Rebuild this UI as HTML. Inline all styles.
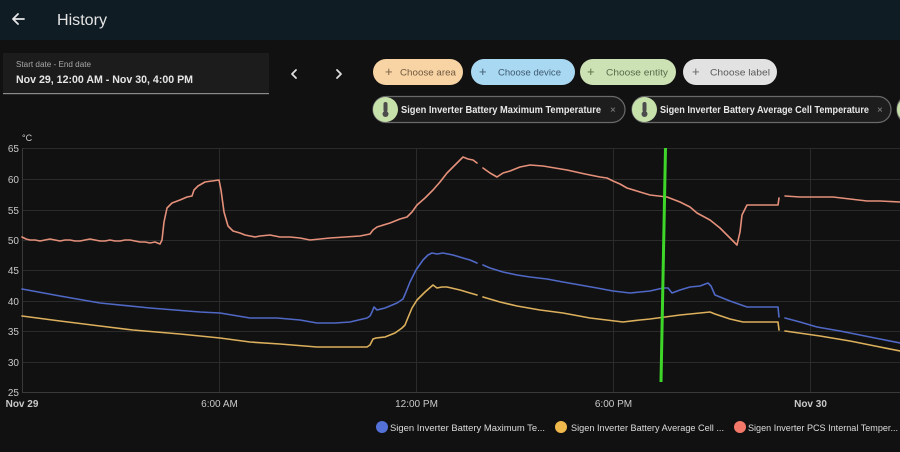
<!DOCTYPE html>
<html><head><meta charset="utf-8"><style>
html,body{margin:0;padding:0;background:#111111;width:900px;height:452px;overflow:hidden}
svg{display:block}
text{font-family:"Liberation Sans",Arial,sans-serif}
</style></head><body>
<svg width="900" height="452" viewBox="0 0 900 452" xmlns="http://www.w3.org/2000/svg">
<rect width="900" height="452" fill="#111111"/>
<!-- header -->
<rect x="0" y="0" width="900" height="40" fill="#101c24"/>
<g stroke="#e6e6e6" stroke-width="1.8" fill="none" stroke-linecap="round" stroke-linejoin="round">
<path d="M24 19 H13 M18 14 L13 19 L18 24"/>
</g>
<text x="57" y="25" font-size="16" fill="#e4e4e4" textLength="50" lengthAdjust="spacingAndGlyphs">History</text>
<!-- date box -->
<rect x="3" y="53" width="266" height="41" fill="#1c1c1c"/>
<rect x="3" y="93" width="266" height="1.2" fill="#8a8a8a"/>
<text x="16" y="67" font-size="8" fill="#a8a8a8" textLength="75" lengthAdjust="spacingAndGlyphs">Start date - End date</text>
<text x="16" y="83" font-size="11" fill="#e6e6e6" font-weight="bold" textLength="177" lengthAdjust="spacingAndGlyphs">Nov 29, 12:00 AM - Nov 30, 4:00 PM</text>
<g stroke="#e0e0e0" stroke-width="1.8" fill="none" stroke-linecap="round" stroke-linejoin="round">
<path d="M296 70 L292 74 L296 78"/>
<path d="M337 70 L341 74 L337 78"/>
</g>
<!-- chips row 1 -->
<rect x="373" y="59" width="90" height="26" rx="13" fill="#f8d3a3"/>
<text x="385" y="76" font-size="13" fill="#7a6248">+</text>
<text x="400" y="75.5" font-size="9.5" fill="#6f5a40" textLength="56" lengthAdjust="spacingAndGlyphs">Choose area</text>
<rect x="471" y="59" width="104" height="26" rx="13" fill="#a9d8f3"/>
<text x="479" y="76" font-size="13" fill="#3f5d72">+</text>
<text x="498" y="75.5" font-size="9.5" fill="#3e5a6e" textLength="63" lengthAdjust="spacingAndGlyphs">Choose device</text>
<rect x="580" y="59" width="96" height="26" rx="13" fill="#cde2b4"/>
<text x="587" y="76" font-size="13" fill="#5a6e48">+</text>
<text x="606" y="75.5" font-size="9.5" fill="#58694a" textLength="62" lengthAdjust="spacingAndGlyphs">Choose entity</text>
<rect x="683" y="59" width="94" height="26" rx="13" fill="#e2e2e2"/>
<text x="692" y="76" font-size="13" fill="#666">+</text>
<text x="710" y="75.5" font-size="9.5" fill="#5a5a5a" textLength="60" lengthAdjust="spacingAndGlyphs">Choose label</text>
<!-- chips row 2 -->
<rect x="373" y="96.5" width="252" height="26" rx="13" fill="#1d1d1d" stroke="#6a6a6a" stroke-width="1.2"/>
<circle cx="385.5" cy="109.5" r="12.5" fill="#c7e1ab"/>
<rect x="383.5" y="102" width="4" height="10" rx="2" fill="#4c4c4c"/>
<circle cx="385.5" cy="114" r="3" fill="#4c4c4c"/>
<text x="401" y="113" font-size="10" font-weight="bold" fill="#e8e8e8" textLength="200" lengthAdjust="spacingAndGlyphs">Sigen Inverter Battery Maximum Temperature</text>
<text x="610" y="113" font-size="10" fill="#8a8a8a">×</text>
<rect x="632" y="96.5" width="259" height="26" rx="13" fill="#1d1d1d" stroke="#6a6a6a" stroke-width="1.2"/>
<circle cx="644.5" cy="109.5" r="12.5" fill="#c7e1ab"/>
<rect x="642.5" y="102" width="4" height="10" rx="2" fill="#4c4c4c"/>
<circle cx="644.5" cy="114" r="3" fill="#4c4c4c"/>
<text x="660" y="113" font-size="10" font-weight="bold" fill="#e8e8e8" textLength="209" lengthAdjust="spacingAndGlyphs">Sigen Inverter Battery Average Cell Temperature</text>
<text x="877" y="113" font-size="10" fill="#8a8a8a">×</text>
<rect x="897" y="96.5" width="20" height="26" rx="13" fill="#1d1d1d" stroke="#6a6a6a" stroke-width="1.2"/>
<circle cx="909.5" cy="109.5" r="12.5" fill="#c7e1ab"/>
<!-- grid -->
<g stroke="#2b2b2b" stroke-width="1">
<line x1="22" y1="148.5" x2="900" y2="148.5"/>
<line x1="22" y1="179.5" x2="900" y2="179.5"/>
<line x1="22" y1="210.5" x2="900" y2="210.5"/>
<line x1="22" y1="240.5" x2="900" y2="240.5"/>
<line x1="22" y1="270.5" x2="900" y2="270.5"/>
<line x1="22" y1="301.5" x2="900" y2="301.5"/>
<line x1="22" y1="331.5" x2="900" y2="331.5"/>
<line x1="22" y1="362.5" x2="900" y2="362.5"/>
<line x1="219.5" y1="148" x2="219.5" y2="392"/>
<line x1="416.5" y1="148" x2="416.5" y2="392"/>
<line x1="613.5" y1="148" x2="613.5" y2="392"/>
<line x1="810.5" y1="148" x2="810.5" y2="392"/>
</g>
<g stroke="#3a3a3a" stroke-width="1">
<line x1="22" y1="392.5" x2="900" y2="392.5"/>
<line x1="22.5" y1="148" x2="22.5" y2="392"/>
</g>
<!-- y labels -->
<g font-size="10" fill="#c9c9c9" text-anchor="end">
<text x="19" y="152">65</text>
<text x="19" y="183">60</text>
<text x="19" y="214">55</text>
<text x="19" y="244">50</text>
<text x="19" y="274">45</text>
<text x="19" y="305">40</text>
<text x="19" y="335">35</text>
<text x="19" y="366">30</text>
<text x="19" y="396">25</text>
</g>
<text x="22" y="141" font-size="9" fill="#c9c9c9">°C</text>
<!-- x labels -->
<g font-size="10" fill="#c9c9c9" text-anchor="middle">
<text x="22" y="407" font-weight="bold">Nov 29</text>
<text x="219.5" y="407">6:00 AM</text>
<text x="416.5" y="407">12:00 PM</text>
<text x="613.5" y="407">6:00 PM</text>
<text x="810.5" y="407" font-weight="bold">Nov 30</text>
</g>
<!-- series -->
<g fill="none" stroke-width="1.6" stroke-linejoin="round" stroke-linecap="round">
<g stroke="#e5907a">
<polyline points="22,237 26,239 30,240 35,240 40,241 45,240 50,239 55,240 60,241 65,240 70,240 75,241 80,241 85,240 90,239 95,240 100,241 105,241 110,240 115,241 120,241 125,240 130,240 135,241 140,242 145,242 150,243 155,242 160,244 162,240 164,222 167,208 172,203 180,200 187,197 192,196 194,190 198,186 205,182 212,181 219,180 221,190 224,212 228,226 233,231 240,233 245,235 250,236 255,237 260,236 270,235 280,237 290,237 300,238 305,239 310,240 320,239 330,238 345,237 360,236 370,234 373,230 377,227 390,223 400,219 407,217 412,212 417,205 425,198 433,190 440,182 447,173 455,165 463,157 468,159 473,160 477,163"/>
<polyline points="483,168 490,173 497,177 503,173 510,171 520,167 530,165 543,166 555,168 567,170 585,174 600,177 607,178 613,181 620,184 627,188 640,192 650,195 667,197 680,202 690,207 697,213 710,220 720,228 730,238 737,245 740,232 742,215 747,205 778,205 779,198"/>
<polyline points="785,196 800,197 817,197 833,197 850,199 867,201 880,201 900,202"/>
</g>
<g stroke="#5068c6">
<polyline points="22,289 60,296 100,303 150,308 200,312 220,313 250,318 277,318 300,320 317,323 335,323 350,322 367,318 370,316 372,312 374,307 377,310 385,308 397,303 403,299 406,292 410,282 416,270 423,260 428,255 432,253 437,254 443,253 453,255 463,258 470,260 477,263"/>
<polyline points="483,265 490,268 503,272 517,275 530,277 547,279 563,282 580,285 597,288 613,291 630,293 650,291 663,288 668,288 672,293 680,290 690,287 700,286 708,283 711,286 715,295 730,301 747,307 778,307 779,317"/>
<polyline points="785,318 800,322 817,327 840,331 860,335 880,339 900,343"/>
</g>
<g stroke="#dcb05c">
<polyline points="22,316 60,321 100,326 133,330 180,334 220,338 250,342 280,344 317,347 340,347 367,347 370,345 373,339 376,338 385,337 395,333 402,328 405,325 407,320 412,308 417,300 425,292 433,285 437,288 442,287 447,287 460,290 470,293 477,295"/>
<polyline points="483,297 500,302 517,306 540,310 563,313 590,318 623,322 640,320 650,319 680,315 700,313 710,312 715,314 730,319 743,322 778,322 779,330"/>
<polyline points="785,331 820,336 850,341 875,346 900,351"/>
</g>
</g>
<!-- green marker -->
<line x1="665.5" y1="148" x2="661" y2="382" stroke="#3fd62a" stroke-width="3"/>
<!-- legend -->
<circle cx="382" cy="427" r="6" fill="#5471d8"/>
<text x="390" y="431" font-size="9.5" fill="#dcdcdc" textLength="155" lengthAdjust="spacingAndGlyphs">Sigen Inverter Battery Maximum Te...</text>
<circle cx="561" cy="427" r="6" fill="#f0b94c"/>
<text x="571" y="431" font-size="9.5" fill="#dcdcdc" textLength="153" lengthAdjust="spacingAndGlyphs">Sigen Inverter Battery Average Cell ...</text>
<circle cx="740" cy="427" r="6" fill="#f4786a"/>
<text x="748" y="431" font-size="9.5" fill="#dcdcdc" textLength="150" lengthAdjust="spacingAndGlyphs">Sigen Inverter PCS Internal Temper...</text>
</svg>
</body></html>
